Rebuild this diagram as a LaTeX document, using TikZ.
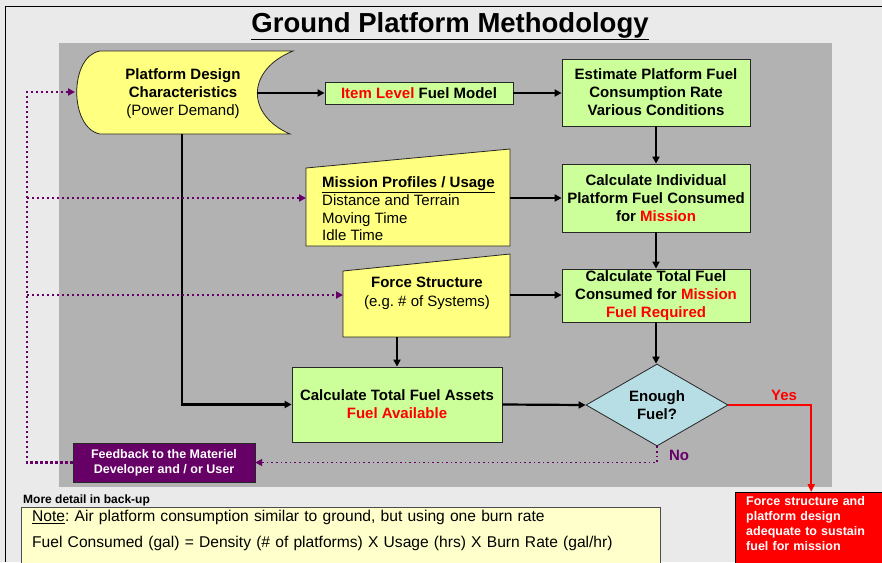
\documentclass[tikz,border=0pt]{standalone}
\usepackage{fontspec}
\setmainfont{Liberation Sans}
\usetikzlibrary{shapes.geometric,arrows.meta,positioning}

\definecolor{gpBack}{RGB}{234,234,234}
\definecolor{gpPanel}{RGB}{178,178,178}
\definecolor{gpYellow}{RGB}{255,255,128}
\definecolor{gpGreen}{RGB}{204,255,153}
\definecolor{gpBlue}{RGB}{183,222,228}
\definecolor{gpPurple}{RGB}{102,0,102}
\definecolor{gpNote}{RGB}{255,255,204}
\definecolor{gpRed}{RGB}{255,0,0}
\newcommand{\redtxt}[1]{\textcolor{gpRed}{#1}}
\frenchspacing

\begin{document}
\begin{tikzpicture}[x=1pt, y=-1pt,
    boxtext/.style={font=\fontsize{15}{18}\selectfont\bfseries, align=center},
    greenbox/.style={boxtext, draw=black!85, fill=gpGreen, line width=0.8pt, inner sep=0pt, minimum width=188pt},
    yellowshape/.style={draw=black!85, fill=gpYellow, line width=0.8pt},
    flowline/.style={line width=2.2pt, -{Triangle[length=7pt,width=7pt]}},
    feedline/.style={gpPurple, line width=2.4pt, dash pattern=on 2.4pt off 2.6pt, -{Triangle[length=7pt,width=7pt]}},
    nofeed/.style={gpPurple, line width=1.6pt, dash pattern=on 1.6pt off 3pt, -{Triangle[length=7pt,width=7pt]}},
    yesline/.style={gpRed, line width=2pt, -{Triangle[length=8pt,width=7pt]}},
    smallbold/.style={font=\fontsize{12.5}{15}\selectfont\bfseries}
]
    \clip (0,0) rectangle (882,562);
    % page and panel
    \fill[gpBack] (0,0) rectangle (882,562);
    \draw[line width=1pt] (5,562) -- (5,6) -- (882,6);
    \fill[gpPanel] (59,43) rectangle (832,487);

    \node[anchor=base, font=\fontsize{27.5}{30}\selectfont\bfseries] (title) at (450,32) {\underline{Ground Platform Methodology}};

    % inputs
    \draw[yellowshape] (100,51) -- (293,51) .. controls (246,70) and (246,115) .. (290,134)
        -- (100,134) .. controls (69,128) and (69,56) .. (100,51) -- cycle;
    \node[boxtext] (design) at (183,94) {Platform Design\\Characteristics\\{\mdseries (Power Demand)}};
    \coordinate (designL) at (75,92);
    \coordinate (designR) at (257,93);
    \coordinate (designB) at (182,134);

    \draw[yellowshape] (306,168) -- (510,149) -- (510,246) -- (306,246) -- cycle;
    \node[anchor=west, align=left, inner sep=0pt, font=\fontsize{15}{17.7}\selectfont] (mission) at (322,209)
        {\textbf{\underline{Mission Profiles / Usage}}\\Distance and Terrain\\Moving Time\\Idle Time};
    \coordinate (missionL) at (306,198);
    \coordinate (missionR) at (510,198);

    \draw[yellowshape] (343,271) -- (510,254) -- (510,337) -- (343,337) -- cycle;
    \node[boxtext, font=\fontsize{15}{19}\selectfont\bfseries] (force) at (427,293) {Force Structure\\{\mdseries (e.g. \# of Systems)}};
    \coordinate (forceL) at (343,295);
    \coordinate (forceR) at (510,295);
    \coordinate (forceB) at (397,337);

    % process boxes
    \node[greenbox, minimum height=22pt] (item) at (419,93) {\redtxt{Item Level} Fuel Model};
    \node[greenbox, minimum height=67pt] (estimate) at (656,92.5) {Estimate Platform Fuel\\Consumption Rate\\Various Conditions};
    \node[greenbox, minimum height=68pt] (individual) at (656,198) {Calculate Individual\\Platform Fuel Consumed\\for \redtxt{Mission}};
    \node[greenbox, minimum height=53pt] (total) at (656,295.5) {Calculate Total Fuel\\Consumed for \redtxt{Mission}\\\redtxt{Fuel Required}};
    \node[greenbox, minimum width=210pt, minimum height=75pt] (assets) at (397,404.5) {Calculate Total Fuel Assets\\\redtxt{Fuel Available}};
    \node[diamond, boxtext, draw=black!85, fill=gpBlue, line width=0.8pt, inner sep=0pt, aspect=1.7,
        minimum width=142pt, minimum height=82pt] (enough) at (657,405) {Enough\\Fuel?};

    % outcomes
    \node[smallbold, fill=gpPurple, draw=black!85, text=white, align=center, minimum width=182pt, minimum height=39pt] (feedback) at (164,462.5)
        {Feedback to the Materiel\\Developer and / or User};
    \node[smallbold, fill=gpRed, draw=black, text=white, anchor=north west, text width=130pt, align=left,
        inner xsep=11pt, inner ysep=4pt, text depth=80pt] (result) at (735,492)
        {Force structure and\\platform design\\adequate to sustain\\fuel for mission};

    \node[anchor=base west, inner sep=0pt, font=\fontsize{12}{14}\selectfont\bfseries] (more) at (23,503) {More detail in back-up};
    \node[draw=black!70, fill=gpNote, anchor=north west, text width=617pt, align=left, inner xsep=11pt, inner ysep=3pt,
        text depth=60pt, font=\fontsize{15.6}{18}\selectfont] (note) at (21,507)
        {\underline{Note}: Air platform consumption similar to ground, but using one burn rate\\[8pt]Fuel Consumed (gal) = Density (\# of platforms) X Usage (hrs) X Burn Rate (gal/hr)};

    % connectors
    \draw[flowline] (designR) -- (item);
    \draw[flowline] (item.east) -- (item.east -| estimate.west);
    \draw[flowline] (estimate) -- (individual);
    \draw[flowline] (individual) -- (total);
    \draw[flowline] (total.south) -- (total.south |- enough.north);
    \draw[flowline] (missionR) -- (missionR -| individual.west);
    \draw[flowline] (forceR) -- (forceR -| total.west);
    \draw[flowline] (forceB) -- (forceB |- assets.north);
    \draw[flowline] (designB) |- (assets.west);
    \draw[flowline] (assets.east) -- (enough.west);

    \draw[yesline] (enough.east) -| (result.north);
    \node[boxtext, text=gpRed] (yes) at (784,395) {Yes};
    \draw[nofeed] (enough.south) |- (feedback.east);
    \node[boxtext, text=gpPurple] (no) at (679,455) {No};

    \coordinate (loopL) at (27,462.5);
    \draw[feedline] (feedback.west) -- (loopL) |- (designL);
    \draw[feedline] (loopL |- missionL) -- (missionL);
    \draw[feedline] (loopL |- forceL) -- (forceL);
\end{tikzpicture}
\end{document}
